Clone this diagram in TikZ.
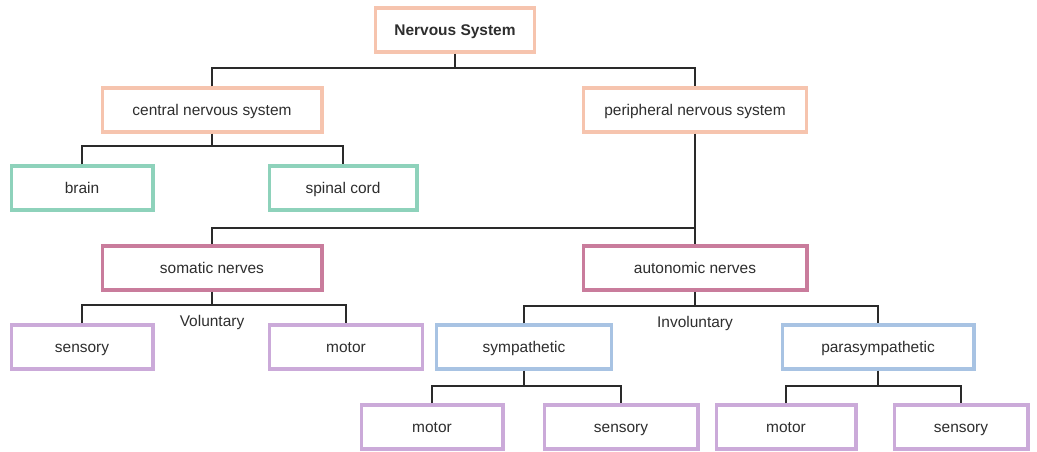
\documentclass[tikz,border=0pt]{standalone}
\usepackage{fontspec}
\setmainfont{Liberation Sans}
\definecolor{peach}{HTML}{F6C4AE}
\definecolor{mint}{HTML}{8ED2BB}
\definecolor{mauve}{HTML}{C97C9C}
\definecolor{lilac}{HTML}{CBAAD9}
\definecolor{sky}{HTML}{A8C3E3}
\definecolor{txt}{HTML}{2E2E2E}
\definecolor{wire}{HTML}{2A2A2A}
\begin{document}
\begin{tikzpicture}[x=0.75pt,y=-0.75pt,
  box/.style={draw, line width=2.3pt, fill=white, inner sep=0pt, text=txt,
    font=\fontsize{11.6}{13}\selectfont, minimum height=33pt,
    text height=9.6pt, text depth=0.8pt},
  wbox/.style={box, minimum width=#1*0.75pt-2.3pt},
  link/.style={draw=wire, line width=1.1pt},
  lbl/.style={text=txt, font=\fontsize{11.6}{13}\selectfont, inner sep=0pt,
    text height=9.6pt, text depth=0.8pt}]
\useasboundingbox (0,0) rectangle (1037,451);
% nodes
\node[wbox=162, draw=peach, font=\fontsize{11.6}{13}\selectfont\bfseries] (ns) at (455,30) {Nervous System};
\node[wbox=223, draw=peach] (cns) at (212,110) {central nervous system};
\node[wbox=226, draw=peach] (pns) at (695,110) {peripheral nervous system};
\node[wbox=145, draw=mint] (brain) at (82,188) {brain};
\node[wbox=151, draw=mint] (spinal) at (343,188) {spinal cord};
\node[wbox=223, draw=mauve] (som) at (212,268) {somatic nerves};
\node[wbox=227, draw=mauve] (aut) at (695,268) {autonomic nerves};
\node[wbox=145, draw=lilac] (sens1) at (82,347) {sensory};
\node[wbox=156, draw=lilac] (mot1) at (346,347) {motor};
\node[wbox=178, draw=sky] (sym) at (524,347) {sympathetic};
\node[wbox=195, draw=sky] (para) at (878,347) {parasympathetic};
\node[wbox=145, draw=lilac] (mot2) at (432,427) {motor};
\node[wbox=157, draw=lilac] (sens2) at (621,427) {sensory};
\node[wbox=143, draw=lilac] (mot3) at (786,427) {motor};
\node[wbox=137, draw=lilac] (sens3) at (961,427) {sensory};
\node[lbl] (vol) at (212,321) {Voluntary};
\node[lbl] (invol) at (695,322) {Involuntary};
% connectors
\coordinate (j1) at (455,68);
\draw[link] (ns.south) -- (j1);
\draw[link] (cns.north) |- (j1) -| (pns.north);
\coordinate (j2) at (212,146);
\draw[link] (cns.south) -- (j2);
\draw[link] (brain.north) |- (j2) -| (spinal.north);
\coordinate (j3) at (695,228);
\draw[link] (pns.south) -- (j3) -- (aut.north);
\draw[link] (j3) -| (som.north);
\coordinate (j4) at (212,305);
\draw[link] (som.south) -- (j4);
\draw[link] (sens1.north) |- (j4) -| (mot1.north);
\coordinate (j5) at (695,306);
\draw[link] (aut.south) -- (j5);
\draw[link] (sym.north) |- (j5) -| (para.north);
\coordinate (j6) at (524,386);
\draw[link] (sym.south) -- (j6);
\draw[link] (mot2.north) |- (j6) -| (sens2.north);
\coordinate (j7) at (878,386);
\draw[link] (para.south) -- (j7);
\draw[link] (mot3.north) |- (j7) -| (sens3.north);
\end{tikzpicture}
\end{document}
